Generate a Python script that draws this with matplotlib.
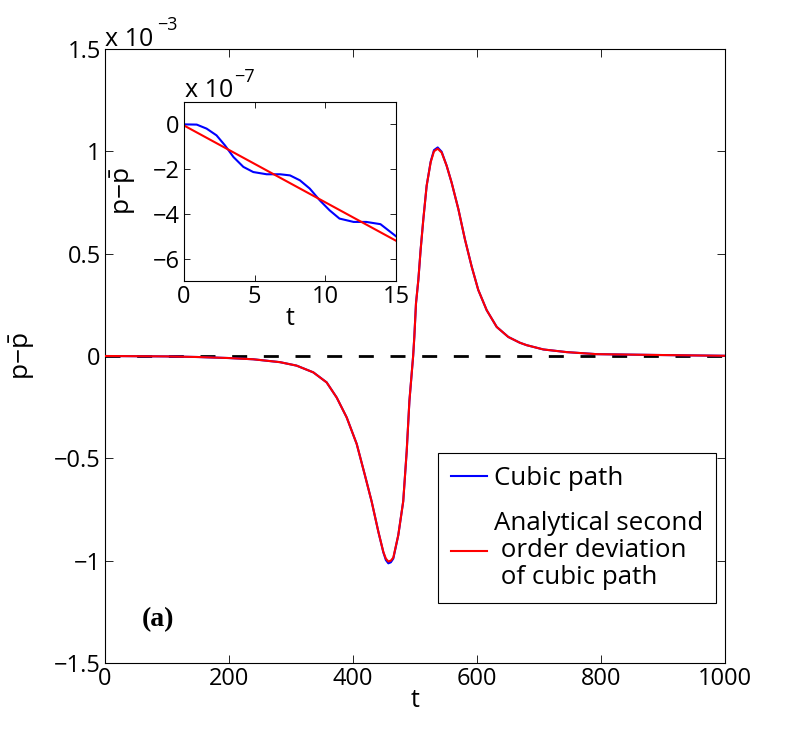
import matplotlib
matplotlib.use('Agg')
from matplotlib import pyplot as plt

plt.rcParams['font.family'] = ['Open Sans', 'DejaVu Sans']
plt.rcParams['mathtext.fontset'] = 'custom'
plt.rcParams['mathtext.rm'] = 'Open Sans'
plt.rcParams['mathtext.it'] = 'Open Sans'

# main panel, values in units of 1e-3
t_main = [0, 100, 150, 200, 239, 282, 309, 336, 357.5, 373.7, 389.8, 406, 419, 430,
          441, 449, 453, 457, 461, 465, 473, 481, 486.6, 491, 497, 498.9, 501.6,
          505.4, 509.1, 513.4, 518.8, 525.3, 530.6, 536.6, 543, 551, 559, 570,
          580.6, 591.4, 602, 615.6, 631.8, 650.5, 669, 680, 707, 744.6, 793, 890,
          1000]
analytic_main = [0, -0.002, -0.005, -0.01, -0.016, -0.03, -0.047, -0.08, -0.129,
                 -0.203, -0.30, -0.43, -0.58, -0.71, -0.86, -0.958, -0.99, -1.004,
                 -1.0, -0.985, -0.876, -0.71, -0.466, -0.219, 0.0, 0.093, 0.257,
                 0.372, 0.52, 0.667, 0.832, 0.947, 1.0, 1.013, 0.994, 0.93, 0.848,
                 0.717, 0.569, 0.437, 0.323, 0.224, 0.142, 0.093, 0.065, 0.053, 0.032,
                 0.019, 0.009, 0.005, 0.001]
cubic_main = [0, -0.002, -0.005, -0.01, -0.016, -0.03, -0.047, -0.08, -0.129,
              -0.203, -0.30, -0.43, -0.58, -0.71, -0.86, -0.96, -0.997, -1.013,
              -1.008, -0.99, -0.876, -0.71, -0.466, -0.219, 0.0, 0.093, 0.257,
              0.372, 0.52, 0.667, 0.832, 0.95, 1.006, 1.019, 0.998, 0.93, 0.848,
              0.717, 0.569, 0.437, 0.323, 0.224, 0.142, 0.093, 0.065, 0.053, 0.032,
              0.019, 0.009, 0.005, 0.001]

# inset, values in units of 1e-7
t_inset = [0, 0.9, 1.6, 2.3, 2.9, 3.5, 4.2, 4.9, 5.85, 6.8, 7.5, 8.2, 8.9, 9.6,
           10.3, 11.0, 12.0, 12.9, 13.9, 15]
cubic_inset = [0, -0.01, -0.19, -0.49, -0.94, -1.46, -1.90, -2.13, -2.23, -2.23,
               -2.28, -2.5, -2.87, -3.39, -3.84, -4.21, -4.36, -4.36, -4.46, -5.0]
t_inset_lin = [0, 15]
analytic_inset = [-0.05, -5.2]

legend_labels = ['Cubic path', 'Analytical second\n order deviation\n of cubic path']
ylab = r'$\mathrm{p{-}\bar{p}}$'

W, H = 789, 735
fig = plt.figure(figsize=(W / 100, H / 100), dpi=100)
ax = fig.add_axes([105 / W, 72 / H, 620 / W, 614 / H])

ax.axhline(0, color='black', lw=2, dashes=(5.4, 6.0), zorder=1)
ax.plot(t_main, cubic_main, color='blue', lw=1.5, label=legend_labels[0], zorder=2)
ax.plot(t_main, analytic_main, color='red', lw=1.5, label=legend_labels[1], zorder=3)

ax.set_xlim(0, 1000)
ax.set_ylim(-1.5, 1.5)
ax.set_xticks([0, 200, 400, 600, 800, 1000])
ax.set_yticks([-1.5, -1, -0.5, 0, 0.5, 1, 1.5])
ax.set_yticklabels(['\u22121.5', '\u22121', '\u22120.5', '0', '0.5', '1', '1.5'])
ax.tick_params(direction='in', top=True, right=True, labelsize=17, length=6,
               width=0.6, pad=3)
ax.set_xlabel('t', fontsize=18, labelpad=-2)
ax.set_ylabel(ylab, fontsize=19)
ax.yaxis.set_label_coords((37 - 105) / 620, 0.5)
fig.text(105 / W, 1 - 46 / H, 'x 10', fontsize=18, va='baseline')
fig.text(157 / W, 1 - 30 / H, '\u22123', fontsize=13, va='baseline')
for s in ax.spines.values():
    s.set_linewidth(0.8)

leg = ax.legend(loc='lower left', bbox_to_anchor=(333 / 620, 60 / 614),
                borderaxespad=0, fontsize=18.6, handlelength=1.4, handletextpad=0.25,
                fancybox=False, edgecolor='black', framealpha=1, labelspacing=0.8,
                borderpad=0.5)
leg.get_frame().set_linewidth(0.8)
for txt in leg.get_texts():
    txt.set_linespacing(1.1)

ax.text(60, -1.288, '(a)', fontsize=20, fontweight='bold',
        family=['Liberation Serif'], ha='left', va='center')

# inset
ins = fig.add_axes([184 / W, 1 - 281 / H, 212 / W, 179 / H])
ins.plot(t_inset, cubic_inset, color='blue', lw=1.5)
ins.plot(t_inset_lin, analytic_inset, color='red', lw=1.5)
ins.set_xlim(0, 15)
ins.set_ylim(-7, 1)
ins.set_xticks([0, 5, 10, 15])
ins.set_yticks([-6, -4, -2, 0])
ins.set_yticklabels(['\u22126', '\u22124', '\u22122', '0'])
ins.tick_params(direction='in', top=True, right=True, labelsize=17, length=4,
                width=0.6, pad=3)
ins.set_xlabel('t', fontsize=18, labelpad=-2)
ins.set_ylabel(ylab, fontsize=19)
ins.yaxis.set_label_coords((138 - 184) / 212, 0.5)
fig.text(185 / W, 1 - 97 / H, 'x 10', fontsize=18, va='baseline')
fig.text(234 / W, 1 - 82 / H, '\u22127', fontsize=13, va='baseline')
for s in ins.spines.values():
    s.set_linewidth(0.8)

fig.savefig('out.png', dpi=100)
